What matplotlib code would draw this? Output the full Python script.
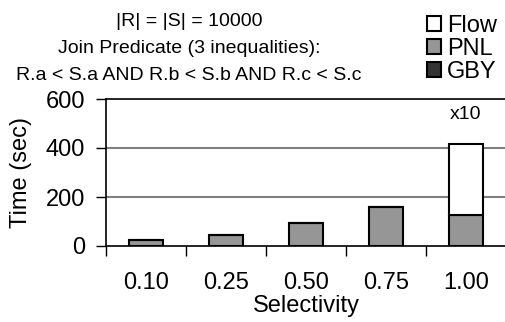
import matplotlib
matplotlib.use("Agg")
import matplotlib.pyplot as plt
import numpy as np

categories = ["0.10", "0.25", "0.50", "0.75", "1.00"]
gby = [0, 0, 0, 0, 0]
pnl = [23, 46, 94, 159, 127]
flow = [0, 0, 0, 0, 289]
yticks = [0, 200, 400, 600]
title_lines = ["|R| = |S| = 10000", "Join Predicate (3 inequalities):",
               "R.a < S.a AND R.b < S.b AND R.c < S.c"]

plt.rcParams['font.family'] = ['Liberation Sans', 'DejaVu Sans']

fig = plt.figure(figsize=(5.06, 3.22), dpi=100)
ax = fig.add_axes([106/506, 1-246/322, 400/506, 147/322])

x = np.arange(len(categories))
w = 0.42
gby_a = np.array(gby); pnl_a = np.array(pnl); flow_a = np.array(flow)
ax.bar(x, gby_a, w, color='#333333', edgecolor='black', linewidth=1.5, zorder=3, label='GBY')
ax.bar(x, pnl_a, w, bottom=gby_a, color='#969696', edgecolor='black', linewidth=1.5, zorder=3, label='PNL')
ax.bar(x, flow_a, w, bottom=gby_a+pnl_a, color='white', edgecolor='black', linewidth=1.5, zorder=3, label='Flow')

ax.set_xlim(-0.5, 4.5)
ax.set_ylim(0, 600)
ax.set_yticks(yticks)
ax.set_yticklabels([str(v) for v in yticks], fontsize=17)
ax.tick_params(axis='y', direction='out', length=7, width=1, pad=8)
ax.set_xticks(x)
ax.set_xticklabels(categories, fontsize=17)
ax.set_xticks(np.arange(-0.5, 5.0, 1.0), minor=True)
ax.tick_params(axis='x', which='major', length=0, pad=19)
ax.tick_params(axis='x', which='minor', direction='out', length=7, width=1)

for v in [200, 400]:
    ax.axhline(v, color='#808080', linewidth=1.5, zorder=1)
ax.spines['right'].set_visible(False)
ax.spines['top'].set_linewidth(1.2)
ax.spines['left'].set_linewidth(1.2)
ax.spines['bottom'].set_linewidth(1.2)

ax.set_xlabel("Selectivity", fontsize=17, va='center')
ax.xaxis.set_label_coords(0.5, (246-306)/147)
ax.set_ylabel("Time (sec)", fontsize=17, va='center')
ax.yaxis.set_label_coords(-(106-21)/400, 0.5)

ax.text(4, 535, "x10", ha='center', va='center', fontsize=14)

for i, t in enumerate(title_lines):
    fig.text(189/506, 1-(21+27.5*i)/322, t, ha='center', va='center', fontsize=14)

h, l = ax.get_legend_handles_labels()
leg = fig.legend(h[::-1], l[::-1], loc='upper right', bbox_to_anchor=(1.015, 1.005),
                 frameon=False, fontsize=17, handlelength=0.6, handleheight=0.6,
                 handletextpad=0.25, labelspacing=0.05, borderpad=0.2)

fig.savefig("out.png", dpi=100)
